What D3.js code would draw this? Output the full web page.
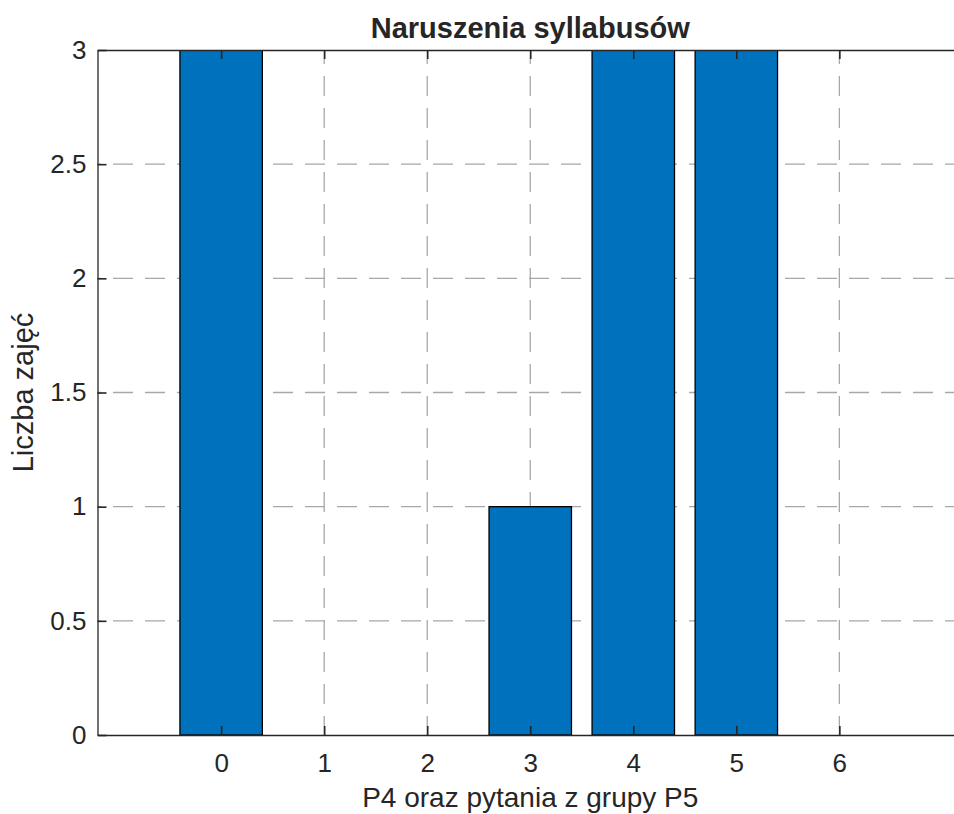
<!DOCTYPE html>
<html>
<head>
<meta charset="utf-8">
<script src="https://cdn.jsdelivr.net/npm/d3@7/dist/d3.min.js"></script>
<style>
  html, body { margin: 0; padding: 0; background: #fff; }
  svg { display: block; }
  text { font-family: "Liberation Sans", Arial, Helvetica, sans-serif; fill: #262626; }
</style>
</head>
<body>
<svg id="chart" width="954" height="814"></svg>
<script>
const categories = [0, 1, 2, 3, 4, 5, 6];
const values = [3, 0, 0, 1, 3, 3, 0];
const yTicks = [0, 0.5, 1, 1.5, 2, 2.5, 3];
const yTickLabels = ["0", "0.5", "1", "1.5", "2", "2.5", "3"];
const xTickLabels = ["0", "1", "2", "3", "4", "5", "6"];
const titleText = "Naruszenia syllabusów";
const xLabelText = "P4 oraz pytania z grupy P5";
const yLabelText = "Liczba zajęć";

const svg = d3.select("#chart");
const L = 97.5, T = 50, B = 735, R = 963;
const x = d3.scaleLinear().domain([-1.2, 7.2]).range([L, R]);
const y = d3.scaleLinear().domain([0, 3]).range([B, T]);
const barW = 0.8;
const axisColor = "#262626";
const gridColor = "#a8a8a8";
const tickLen = 9;

svg.append("defs").append("clipPath").attr("id", "plotClip")
  .append("rect").attr("x", L).attr("y", T).attr("width", R - L).attr("height", B - T);

// grid
const grid = svg.append("g").attr("clip-path", "url(#plotClip)");
grid.selectAll("line.hg").data(yTicks.slice(1, -1)).join("line")
  .attr("x1", L).attr("x2", R)
  .attr("y1", d => y(d)).attr("y2", d => y(d))
  .attr("stroke", gridColor).attr("stroke-width", 1.3)
  .attr("stroke-dasharray", "20,12").attr("stroke-dashoffset", 16.5);
grid.selectAll("line.vg").data(categories).join("line")
  .attr("x1", d => x(d)).attr("x2", d => x(d))
  .attr("y1", T).attr("y2", B)
  .attr("stroke", gridColor).attr("stroke-width", 1.3)
  .attr("stroke-dasharray", "20,12").attr("stroke-dashoffset", 6);

// bars
svg.append("g").attr("clip-path", "url(#plotClip)")
  .selectAll("rect").data(categories).join("rect")
  .attr("x", (d) => x(d - barW / 2))
  .attr("width", x(barW) - x(0))
  .attr("y", (d, i) => y(values[i]))
  .attr("height", (d, i) => y(0) - y(values[i]))
  .attr("fill", "#0072BD")
  .attr("stroke", "#000").attr("stroke-width", 1.3);

// axes via d3 axis generators (inward ticks)
const xAxisB = d3.axisBottom(x).tickValues(categories).tickFormat((d, i) => xTickLabels[i])
  .tickSizeInner(-tickLen).tickSizeOuter(0).tickPadding(19);
const gxb = svg.append("g").attr("transform", `translate(0,${B})`).call(xAxisB);
const xAxisT = d3.axisTop(x).tickValues(categories).tickFormat("")
  .tickSizeInner(-tickLen).tickSizeOuter(0);
const gxt = svg.append("g").attr("transform", `translate(0,${T})`).call(xAxisT);
const yAxisL = d3.axisLeft(y).tickValues(yTicks).tickFormat((d, i) => yTickLabels[i])
  .tickSizeInner(-tickLen).tickSizeOuter(0).tickPadding(11);
const gyl = svg.append("g").attr("transform", `translate(${L},0)`).call(yAxisL);

[gxb, gxt, gyl].forEach(g => {
  g.select(".domain").attr("stroke", axisColor).attr("stroke-width", 1.3);
  g.selectAll(".tick line").attr("stroke", axisColor).attr("stroke-width", 1.6);
  g.selectAll(".tick text").attr("font-size", 26)
    .attr("font-family", "'Liberation Sans', Arial, Helvetica, sans-serif").attr("fill", axisColor);
});
gxb.selectAll(".tick text").attr("dy", "0.71em");

// titles
svg.append("text").attr("x", (L + R) / 2).attr("y", 38)
  .attr("text-anchor", "middle").attr("font-size", 29).attr("font-weight", "bold")
  .attr("fill", "#000").text(titleText);
svg.append("text").attr("x", (L + R) / 2).attr("y", 807)
  .attr("text-anchor", "middle").attr("font-size", 28).text(xLabelText);
svg.append("text").attr("transform", `translate(33,${(T + B) / 2}) rotate(-90)`)
  .attr("text-anchor", "middle").attr("font-size", 29).text(yLabelText);
</script>
</body>
</html>
